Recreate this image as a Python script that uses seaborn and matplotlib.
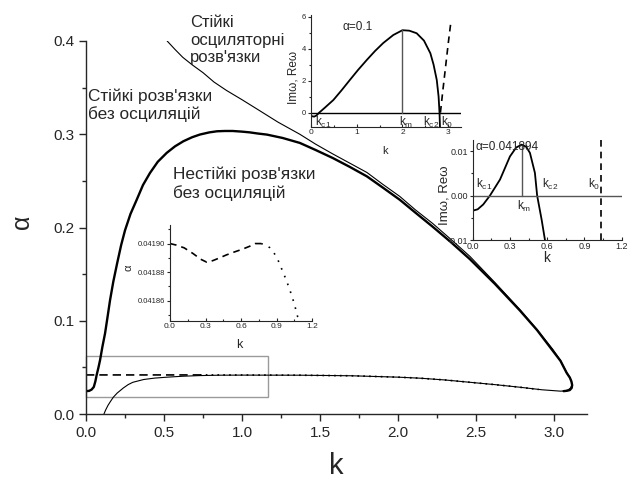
import numpy as np
import pandas as pd
import matplotlib
matplotlib.use("Agg")
import matplotlib.pyplot as plt
from matplotlib.patches import Rectangle
from matplotlib.ticker import MultipleLocator
import seaborn as sns

# ---------------- data ----------------
# thick boundary curve (main)
thick_k = [0.0, 0.02, 0.036, 0.05, 0.06, 0.068, 0.08, 0.09, 0.105, 0.122, 0.138, 0.154, 0.175,
           0.2, 0.225, 0.25, 0.285, 0.325, 0.365, 0.41, 0.46, 0.517, 0.57, 0.624, 0.68, 0.73,
           0.79, 0.84, 0.89, 0.94, 1.0, 1.05, 1.1, 1.16, 1.26, 1.37, 1.47, 1.58, 1.69, 1.80,
           1.90, 2.01, 2.11, 2.22, 2.34, 2.46, 2.62, 2.78, 2.89, 2.99, 3.04, 3.08, 3.10, 3.11,
           3.115, 3.112, 3.10, 3.085, 3.06]
thick_a = [0.0245, 0.0248, 0.0262, 0.029, 0.035, 0.0416, 0.050, 0.0577, 0.072, 0.0864, 0.104,
           0.122, 0.142, 0.162, 0.181, 0.197, 0.2145, 0.2298, 0.2455, 0.2585, 0.2705, 0.280,
           0.287, 0.2925, 0.2968, 0.2997, 0.302, 0.3032, 0.3035, 0.3035, 0.3028, 0.302, 0.3008,
           0.2996, 0.296, 0.2907, 0.2832, 0.2746, 0.265, 0.2548, 0.243, 0.2298, 0.216, 0.201,
           0.184, 0.166, 0.1395, 0.111, 0.090, 0.068, 0.057, 0.044, 0.039, 0.035, 0.031, 0.028,
           0.0257, 0.025, 0.0245]
# thin curve (main): from bottom-left, lower branch, turn, upper branch
thin_k = [0.115, 0.125, 0.14, 0.155, 0.175, 0.2, 0.24, 0.27, 0.30, 0.37, 0.44, 0.52, 0.62,
          0.73, 0.85, 1.0, 1.37, 1.7, 2.0, 2.14, 2.3, 2.46, 2.62, 2.78, 2.92, 3.0, 3.04, 3.07,
          3.09, 3.105, 3.113, 3.11, 3.10, 3.08, 3.04, 2.99, 2.89, 2.78, 2.62, 2.46, 2.34, 2.22,
          2.11, 2.01, 1.90, 1.80, 1.69, 1.58, 1.47, 1.37, 1.23, 1.10, 1.0, 0.90, 0.82, 0.75,
          0.68, 0.62, 0.57, 0.52]
thin_a = [0.0, 0.004, 0.009, 0.013, 0.018, 0.0225, 0.028, 0.0315, 0.034, 0.037, 0.0385,
          0.0395, 0.0405, 0.0412, 0.0416, 0.0417, 0.0416, 0.041, 0.0395, 0.0384, 0.0365, 0.034,
          0.0315, 0.0287, 0.026, 0.025, 0.0245, 0.0248, 0.026, 0.028, 0.031, 0.035, 0.0395,
          0.0445, 0.0575, 0.0695, 0.0905, 0.112, 0.141, 0.169, 0.187, 0.2045, 0.219, 0.2334,
          0.2465, 0.259, 0.269, 0.279, 0.2895, 0.300, 0.313, 0.3266, 0.337, 0.347, 0.356,
          0.366, 0.3745, 0.3825, 0.391, 0.400]
# dotted overlay on the lower branch
dot_k = [0.73, 1.0, 1.37, 1.7, 2.0, 2.14, 2.3, 2.46, 2.62, 2.78, 2.9]
dot_a = [0.0419, 0.0418, 0.0416, 0.041, 0.0395, 0.0384, 0.0365, 0.034, 0.0315, 0.0287, 0.0263]
# critical alpha vs k (inset 3 and dashed line in main)
crit_k = [0.0, 0.05, 0.12, 0.195, 0.26, 0.31, 0.36, 0.42, 0.475, 0.54, 0.61, 0.67, 0.72,
          0.77, 0.81, 0.845, 0.875, 0.91, 0.945, 0.98, 1.015, 1.05, 1.078, 1.10]
crit_a = [0.041900, 0.041899, 0.041897, 0.041893, 0.041889, 0.041887, 0.041888, 0.041890,
          0.041892, 0.041894, 0.041896, 0.041898, 0.041900, 0.041900, 0.041899, 0.041897,
          0.041894, 0.041889, 0.041882, 0.041875, 0.041867, 0.041858, 0.041849, 0.041846]
crit_dash_end = 0.77
# highlighted rectangle
rect_k = [0.0, 1.167]
rect_a = [0.018, 0.062]

# inset 1 (alpha = 0.1)
in1_k = [0.0, 0.04, 0.07, 0.12, 0.18, 0.3, 0.49, 0.67, 0.85, 1.03, 1.22, 1.4, 1.58, 1.8, 2.0,
         2.15, 2.31, 2.47, 2.61, 2.68, 2.75, 2.79, 2.81, 2.82]
in1_v = [-0.2, -0.24, -0.25, -0.18, 0.0, 0.3, 0.79, 1.4, 2.04, 2.67, 3.29, 3.85, 4.35, 4.85,
         5.15, 5.12, 4.96, 4.5, 3.71, 3.0, 2.04, 1.0, 0.0, -0.9]
in1_re_k = [2.83, 2.88, 2.94, 3.0, 3.06]
in1_re_v = [0.0, 1.3, 2.8, 4.3, 5.7]
in1_km, in1_peak = 2.0, 5.15

# inset 2 (alpha = 0.041894)
in2_k = [0.0, 0.04, 0.085, 0.139, 0.22, 0.30, 0.35, 0.394, 0.43, 0.461, 0.501, 0.519, 0.555, 0.582]
in2_v = [-0.0034, -0.0031, -0.002, 0.0, 0.0036, 0.0088, 0.0108, 0.01146, 0.011, 0.0096, 0.0051,
         0.0, -0.0054, -0.01]
in2_km, in2_peak = 0.394, 0.01146
in2_k0 = 1.03

# ---------------- style ----------------
sns.set_style("ticks")
plt.rcParams['font.family'] = ['Liberation Sans', 'DejaVu Sans']
plt.rcParams['mathtext.default'] = 'regular'

fig = plt.figure(figsize=(6.28, 4.79), dpi=100)
ax = fig.add_axes([86/628, 1-414/479, (587-86)/628, (414-41)/479])

def line(axx, k, v, **kw):
    df = pd.DataFrame({"k": k, "v": v})
    sns.lineplot(data=df, x="k", y="v", sort=False, estimator=None, ax=axx, **kw)

line(ax, thick_k, thick_a, color='black', linewidth=1.7)
line(ax, thin_k, thin_a, color='black', linewidth=0.8)
line(ax, dot_k, dot_a, color='black', linewidth=1.2, linestyle=(0, (1, 2.5)))
ck = np.array(crit_k); ca = np.array(crit_a)
m = ck <= crit_dash_end
line(ax, ck[m], ca[m], color='black', linewidth=1.2, linestyle=(0, (5, 3)))
ax.add_patch(Rectangle((rect_k[0], rect_a[0]), rect_k[1]-rect_k[0], rect_a[1]-rect_a[0],
                       fill=False, edgecolor='#9a9a9a', linewidth=1.0, clip_on=False))

ax.set_xlim(0, 3.21)
ax.set_ylim(0, 0.4)
ax.xaxis.set_major_locator(MultipleLocator(0.5))
ax.xaxis.set_minor_locator(MultipleLocator(0.25))
ax.yaxis.set_major_locator(MultipleLocator(0.1))
ax.yaxis.set_minor_locator(MultipleLocator(0.05))
ax.set_xticks([0, 0.5, 1.0, 1.5, 2.0, 2.5, 3.0])
ax.set_xticklabels(["0.0", "0.5", "1.0", "1.5", "2.0", "2.5", "3.0"])
ax.set_yticks([0, 0.1, 0.2, 0.3, 0.4])
ax.set_yticklabels(["0.0", "0.1", "0.2", "0.3", "0.4"])
ax.tick_params(which='major', direction='out', length=5, width=1, labelsize=11)
ax.tick_params(which='minor', direction='out', length=3, width=1)
sns.despine(ax=ax)
for s in ['left', 'bottom']:
    ax.spines[s].set_linewidth(1.0)
ax.set_xlabel("k", fontsize=21)
ax.set_ylabel("α", fontsize=18, rotation=90)
ax.xaxis.set_label_coords((336-86)/501, -(452-414)/373)
ax.yaxis.set_label_coords(-(86-34)/501, (414-222)/373)
ax.set_facecolor('none')

ax.text(0.667, 0.428, "Стійкі\nосциляторні\nрозв'язки", fontsize=12.0, va='top', ha='left',
        linespacing=1.22)
ax.text(0.013, 0.3495, "Стійкі розв'язки\nбез осциляцій", fontsize=12.4, va='top', ha='left',
        linespacing=1.2)
ax.text(0.558, 0.265, "Нестійкі розв'язки\nбез осциляцій", fontsize=12.4, va='top', ha='left',
        linespacing=1.2)

# ---------------- inset 1 ----------------
a1 = fig.add_axes([311/628, 1-127/479, 150/628, 112/479])
a1.set_facecolor('none')
line(a1, in1_k, in1_v, color='black', linewidth=1.3)
line(a1, in1_re_k, in1_re_v, color='black', linewidth=1.2, linestyle=(0, (4, 3)))
a1.axhline(0, color='black', linewidth=1.0)
line(a1, [in1_km, in1_km], [0, in1_peak], color='#555555', linewidth=1.0)
a1.set_xlim(0, 3.28)
a1.set_ylim(-0.9, 6.1)
a1.set_xticks([0, 1, 2, 3])
a1.set_yticks([0, 2, 4, 6])
a1.xaxis.set_minor_locator(MultipleLocator(0.5))
a1.yaxis.set_minor_locator(MultipleLocator(1))
a1.tick_params(axis='x', which='both', direction='in', labelsize=6, pad=1.5, length=2.5, width=0.8)
a1.tick_params(axis='y', which='both', direction='out', labelsize=5.5, pad=1, length=2.5, width=0.8)
a1.tick_params(which='minor', length=1.5)
sns.despine(ax=a1)
a1.set_xlabel("k", fontsize=8)
a1.xaxis.set_label_coords((385-311)/150, -(146-127)/112)
a1.set_ylabel("Imω, Reω", fontsize=8.5)
a1.yaxis.set_label_coords(-(311-299)/150, (127-77)/112)
a1.text(0.68, 5.35, "α=0.1", fontsize=8.5, va='center')
a1.text(0.08, -0.12, "k$_{c1}$", fontsize=8.5, va='top')
a1.text(1.92, -0.12, "k$_{m}$", fontsize=8.5, va='top')
a1.text(2.45, -0.12, "k$_{c2}$", fontsize=8.5, va='top')
a1.text(2.85, -0.12, "k$_{0}$", fontsize=8.5, va='top')

# ---------------- inset 2 ----------------
a2 = fig.add_axes([472.7/628, 1-240/479, 149/628, 100/479])
a2.set_facecolor('none')
line(a2, in2_k, in2_v, color='black', linewidth=1.3)
a2.axhline(0, color='#555555', linewidth=1.0)
line(a2, [in2_km, in2_km], [0, in2_peak], color='#555555', linewidth=1.0)
a2.axvline(in2_k0, color='black', linewidth=1.2, linestyle=(0, (4, 3)))
a2.set_xlim(0, 1.2)
a2.set_ylim(-0.01, 0.0125)
a2.set_xticks([0, 0.3, 0.6, 0.9, 1.2])
a2.set_xticklabels(["0.0", "0.3", "0.6", "0.9", "1.2"])
a2.set_yticks([-0.01, 0.0, 0.01])
a2.set_yticklabels(["-0.01", "0.00", "0.01"])
a2.xaxis.set_minor_locator(MultipleLocator(0.15))
a2.yaxis.set_minor_locator(MultipleLocator(0.005))
a2.tick_params(axis='x', which='both', direction='in', labelsize=6.5, pad=1.5, length=2.5, width=0.8)
a2.tick_params(axis='y', which='both', direction='out', labelsize=6.5, pad=1, length=2.5, width=0.8)
a2.tick_params(which='minor', length=1.5)
sns.despine(ax=a2)
a2.set_xlabel("k", fontsize=10)
a2.xaxis.set_label_coords((547-472.7)/149, -(251-240)/100)
a2.set_ylabel("Imω, Reω", fontsize=9.5)
a2.yaxis.set_label_coords(-(472.7-450)/149, (240-195)/100)
a2.text(0.02, 0.011, "α=0.041894", fontsize=8.5, va='center')
a2.text(0.03, 0.0007, "k$_{c1}$", fontsize=8.5, va='bottom')
a2.text(0.36, -0.0007, "k$_{m}$", fontsize=8.5, va='top')
a2.text(0.56, 0.0007, "k$_{c2}$", fontsize=8.5, va='bottom')
a2.text(0.93, 0.0007, "k$_{0}$", fontsize=8.5, va='bottom')

# ---------------- inset 3 ----------------
a3 = fig.add_axes([170/628, 1-320.7/479, 142/628, 95.7/479])
a3.set_facecolor('none')
line(a3, ck[m], ca[m], color='black', linewidth=1.2, linestyle=(0, (4, 3)))
line(a3, ck[ck >= crit_dash_end], ca[ck >= crit_dash_end], color='black', linewidth=1.2,
     linestyle=(0, (1, 4)))
a3.set_xlim(0, 1.2)
a3.set_ylim(0.041846, 0.041913)
a3.set_xticks([0, 0.3, 0.6, 0.9, 1.2])
a3.set_xticklabels(["0.0", "0.3", "0.6", "0.9", "1.2"])
a3.set_yticks([0.04186, 0.04188, 0.04190])
a3.set_yticklabels(["0.04186", "0.04188", "0.04190"])
a3.xaxis.set_minor_locator(MultipleLocator(0.15))
a3.yaxis.set_minor_locator(MultipleLocator(0.00001))
a3.tick_params(axis='x', which='both', direction='in', labelsize=6, pad=2, length=2.5, width=0.8)
a3.tick_params(axis='y', which='both', direction='out', labelsize=5.5, pad=1, length=2.5, width=0.8)
a3.tick_params(which='minor', length=1.5)
sns.despine(ax=a3)
a3.set_xlabel("k", fontsize=9)
a3.xaxis.set_label_coords((239-170)/142, -(339-320.7)/95.7)
a3.set_ylabel("α", fontsize=8)
a3.yaxis.set_label_coords(-(170-134)/142, (320.7-268)/95.7)

fig.savefig("out.png", dpi=100)
